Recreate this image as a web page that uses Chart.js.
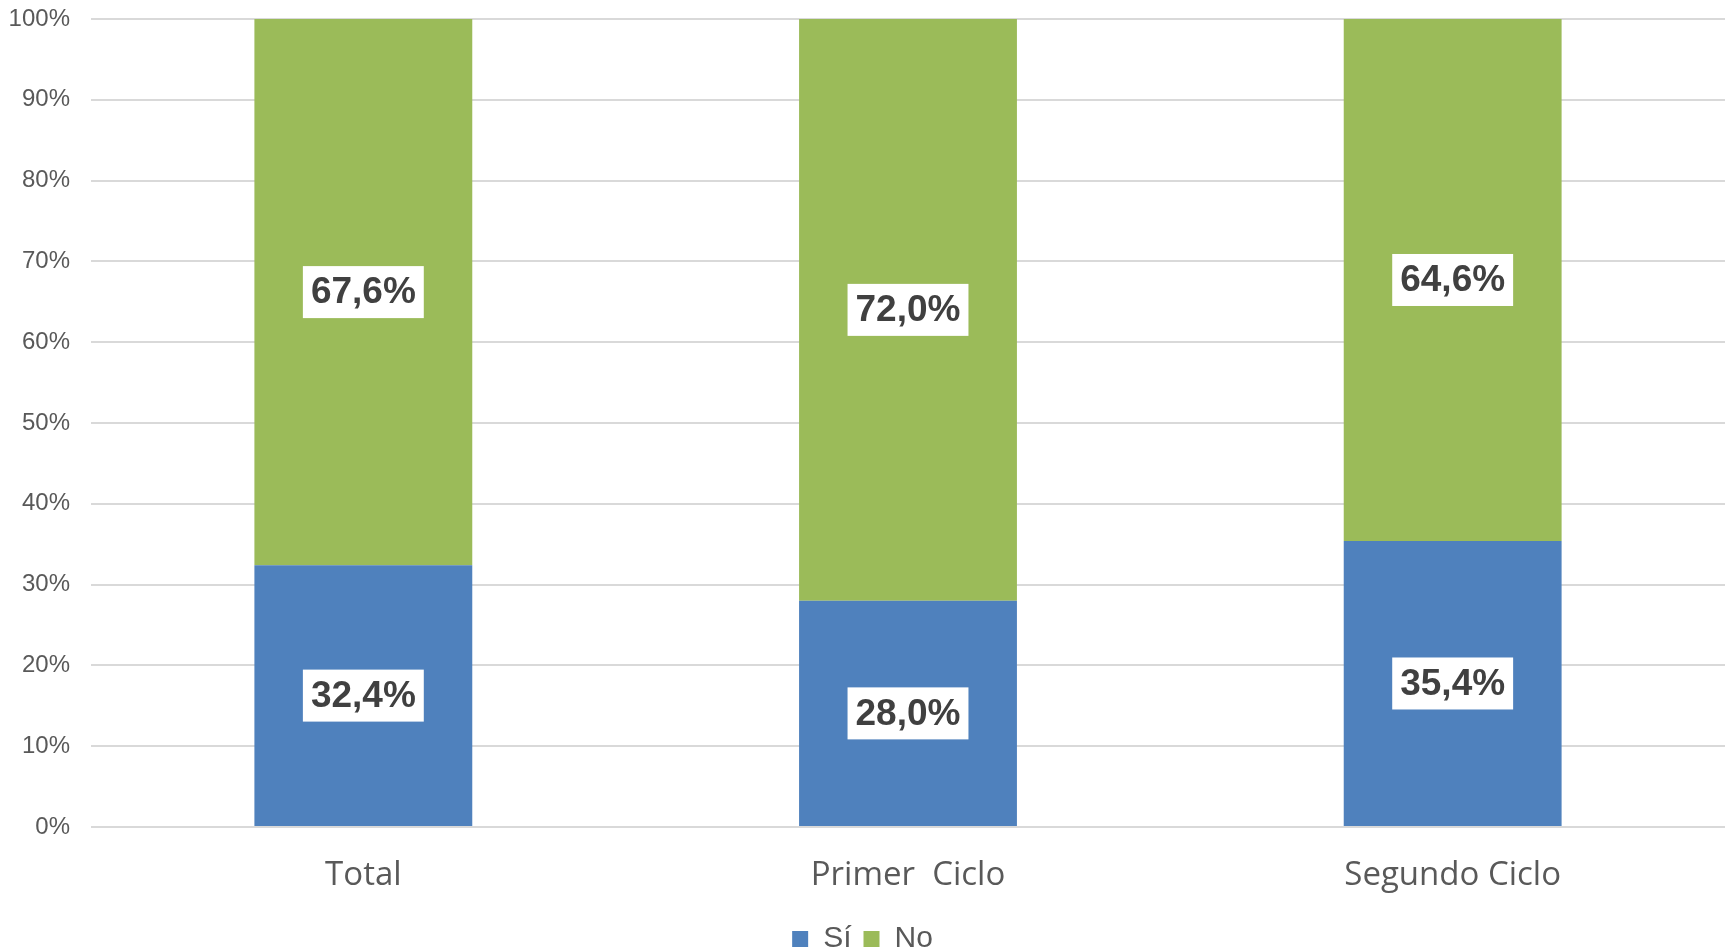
<!DOCTYPE html>
<html>
<head>
<meta charset="utf-8">
<script src="https://cdn.jsdelivr.net/npm/chart.js@4/dist/chart.umd.min.js"></script>
<style>
  html, body { margin: 0; padding: 0; background: #fff; }
  #wrap { width: 1725px; height: 950px; }
</style>
</head>
<body>
<div id="wrap"><canvas id="myChart" width="1725" height="950"></canvas></div>
<script>
const categories = ["Total", "Primer  Ciclo", "Segundo Ciclo"];
const siValues = [32.4, 28.0, 35.4];
const noValues = [67.6, 72.0, 64.6];
const yTicks = [0, 10, 20, 30, 40, 50, 60, 70, 80, 90, 100];

// etiquetas blancas con el porcentaje, centradas en cada segmento
const boxLabels = {
    id: "boxLabels",
    afterDatasetsDraw(chart) {
        const ctx = chart.ctx;
        ctx.save();
        ctx.font = "bold 37px 'Liberation Sans', Arial, sans-serif";
        ctx.textAlign = "center";
        ctx.textBaseline = "middle";
        chart.data.datasets.forEach(function (ds, di) {
            const meta = chart.getDatasetMeta(di);
            meta.data.forEach(function (bar, i) {
                const txt = ds.data[i].toFixed(1).replace(".", ",") + "%";
                const cy = (bar.y + bar.base) / 2;
                const w = ctx.measureText(txt).width + 16;
                const h = 52;
                ctx.fillStyle = "#ffffff";
                ctx.fillRect(bar.x - w / 2, cy - h / 2, w, h);
                ctx.fillStyle = "#404040";
                ctx.fillText(txt, bar.x, cy + 1);
            });
        });
        ctx.restore();
    }
};

const data = {
    labels: categories,
    datasets: [{
        label: "Sí",
        data: siValues,
        backgroundColor: "#4F81BD",
        barPercentage: 0.4,
        categoryPercentage: 1.0
    }, {
        label: "No",
        data: noValues,
        backgroundColor: "#9BBB59",
        barPercentage: 0.4,
        categoryPercentage: 1.0
    }]
};

const config = {
    type: "bar",
    data: data,
    plugins: [boxLabels],
    options: {
        responsive: false,
        animation: { duration: 0 },
        layout: { padding: { top: 19, right: 0, bottom: -14, left: 0 } },
        plugins: {
            tooltip: { enabled: false },
            legend: {
                position: "bottom",
                labels: {
                    boxWidth: 16,
                    boxHeight: 16,
                    padding: 12,
                    color: "#595959",
                    font: { family: "'Liberation Sans', Arial, sans-serif", size: 30 }
                }
            }
        },
        scales: {
            x: {
                stacked: true,
                afterFit: function (scale) { scale.height = 85; },
                grid: { display: false, drawTicks: false },
                border: { display: false },
                ticks: {
                    padding: 29,
                    color: "#595959",
                    font: { family: "'Open Sans', sans-serif", size: 33 }
                }
            },
            y: {
                stacked: true,
                min: 0,
                max: 100,
                afterFit: function (scale) { scale.width = 91; },
                afterBuildTicks: function (scale) {
                    scale.ticks = yTicks.map(function (v) { return { value: v }; });
                },
                grid: { color: "#D9D9D9", lineWidth: 2, drawTicks: true, tickLength: 21, tickColor: "rgba(0,0,0,0)" },
                border: { display: false },
                ticks: {
                    padding: 0,
                    color: "#595959",
                    font: { family: "'Liberation Sans', Arial, sans-serif", size: 24 },
                    callback: function (v) { return v + "%"; }
                }
            }
        }
    }
};

const myChart = new Chart(document.getElementById("myChart"), config);
</script>
</body>
</html>
